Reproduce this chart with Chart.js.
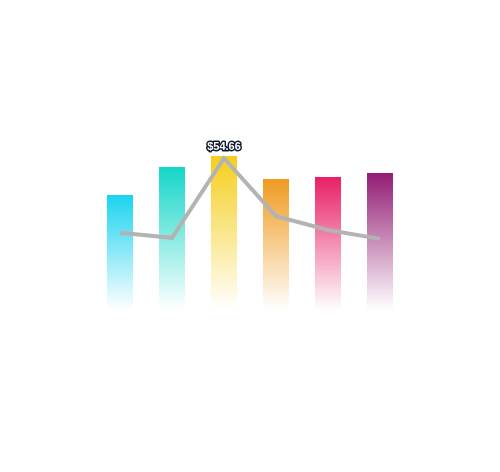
<!DOCTYPE html>
<html>
<head>
<meta charset="utf-8">
<script src="https://cdn.jsdelivr.net/npm/chart.js@4/dist/chart.umd.min.js"></script>
<style>
  html, body { margin: 0; padding: 0; background: #fff; }
  #wrap { width: 500px; height: 472px; position: relative; }
</style>
</head>
<body>
<div id="wrap"><canvas id="mixedChart"></canvas></div>
<script>
const labels = ['A', 'B', 'C', 'D', 'E', 'F'];
const barValues = [46, 57.2, 61.6, 52.4, 53.2, 54.8];
const lineValues = [27.8, 26.0, 54.66, 33.8, 28.8, 25.6];
const barColors = ['#1AD3EF', '#14D6C8', '#F5CE1C', '#EF9B20', '#E81F67', '#931C74'];
const labelIndex = 2;

function hexToRgba(hex, a) {
    const n = parseInt(hex.slice(1), 16);
    return 'rgba(' + ((n >> 16) & 255) + ',' + ((n >> 8) & 255) + ',' + (n & 255) + ',' + a + ')';
}

// fade each bar from its colour at the top to nothing at the base
function barGradient(context) {
    const chart = context.chart;
    const { ctx, chartArea, scales } = chart;
    if (!chartArea || context.dataIndex === undefined) return barColors[0];
    const color = barColors[context.dataIndex];
    const top = scales.y.getPixelForValue(barValues[context.dataIndex]);
    const base = scales.y.getPixelForValue(0);
    const g = ctx.createLinearGradient(0, top, 0, base);
    g.addColorStop(0, hexToRgba(color, 1));
    g.addColorStop(1, hexToRgba(color, 0));
    return g;
}

// value label above the highlighted point
const pointLabel = {
    id: 'pointLabel',
    afterDatasetsDraw(chart) {
        const meta = chart.getDatasetMeta(1);
        const pt = meta.data[labelIndex];
        if (!pt) return;
        const ctx = chart.ctx;
        const text = '$' + lineValues[labelIndex].toFixed(2);
        ctx.save();
        ctx.font = 'bold 11px "Liberation Sans", Arial, sans-serif';
        ctx.textAlign = 'center';
        ctx.textBaseline = 'middle';
        ctx.lineJoin = 'round';
        ctx.lineWidth = 3;
        ctx.strokeStyle = '#0f1a2e';
        ctx.strokeText(text, pt.x, pt.y - 11);
        ctx.fillStyle = '#ffffff';
        ctx.fillText(text, pt.x, pt.y - 11);
        ctx.restore();
    }
};

const ctx = document.getElementById('mixedChart').getContext('2d');
const mixedChart = new Chart(ctx, {
    data: {
        labels: labels,
        datasets: [{
            type: 'bar',
            data: barValues,
            backgroundColor: barGradient,
            barPercentage: 1,
            categoryPercentage: 0.5,
            yAxisID: 'y',
            order: 2
        }, {
            type: 'line',
            data: lineValues,
            borderColor: '#B3B3B3',
            borderWidth: 4,
            pointRadius: 0,
            tension: 0,
            fill: false,
            yAxisID: 'y1',
            order: 1
        }]
    },
    options: {
        responsive: true,
        maintainAspectRatio: false,
        animation: false,
        layout: {
            padding: { left: 94, right: 94, top: 60, bottom: 162 }
        },
        plugins: {
            legend: { display: false },
            tooltip: { enabled: false }
        },
        scales: {
            x: { display: false, offset: true },
            y: { display: false, min: 0, max: 100 },
            y1: { display: false, min: 0, max: 90 }
        }
    },
    plugins: [pointLabel]
});
</script>
</body>
</html>
